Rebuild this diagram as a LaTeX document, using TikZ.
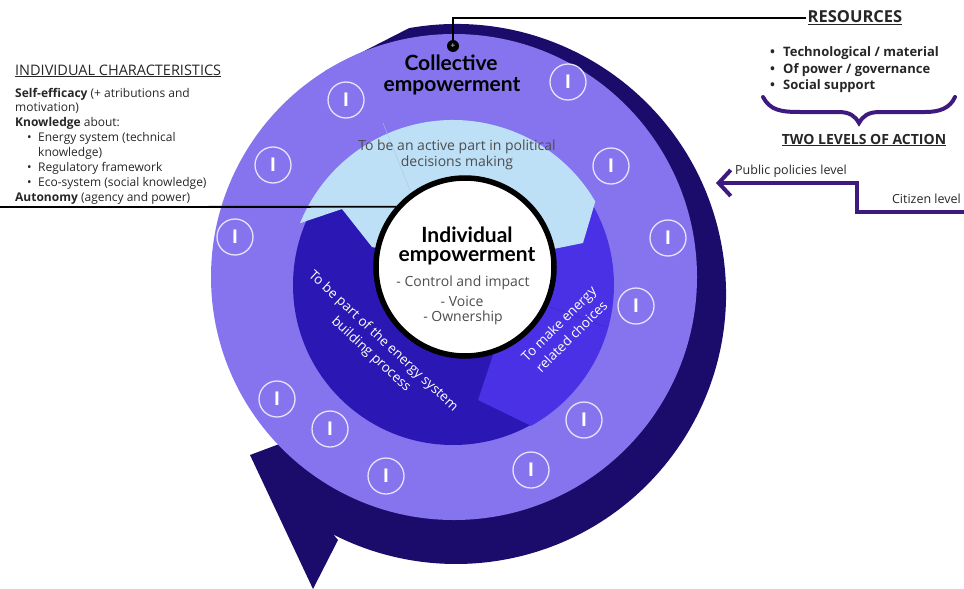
\documentclass[tikz,border=0pt]{standalone}
\usepackage{fontspec}
\setmainfont{Open Sans}
\newfontfamily\titlefont{Lato}
\usetikzlibrary{arrows.meta}
\definecolor{ringnavy}{HTML}{1B0C6B}
\definecolor{ringpurple}{HTML}{8574EE}
\definecolor{coredark}{HTML}{2B17B3}
\definecolor{corebright}{HTML}{4A31E6}
\definecolor{corelight}{HTML}{BEE0F6}
\definecolor{levelpurple}{HTML}{3E1A7E}
\definecolor{txtdark}{HTML}{262626}
\definecolor{txtgray}{HTML}{4D4D4D}
\newcommand{\setfs}[2]{\fontsize{#1}{#2}\selectfont}

\begin{document}
\begin{tikzpicture}[x=1pt,y=-1pt]
\tikzstyle{every node}+=[inner sep=0pt]
\tikzset{
  ibadge/.style={circle, draw=white!80!ringpurple, line width=1.3pt, minimum size=36pt, text=white, font=\bfseries\setfs{19}{19}},
  lefttxt/.style={anchor=base west, text=txtdark, font=\setfs{12}{14}},
  restxt/.style={anchor=base west, text=txtdark, font=\bfseries\setfs{13}{15}},
  headtxt/.style={text=txtdark, font=\bfseries\setfs{14}{15}},
  bigtxt/.style={text=black, font=\titlefont\bfseries\setfs{21}{22}},
  listtxt/.style={text=txtgray, font=\setfs{14}{15}}
}
\useasboundingbox (0,0) rectangle (964,589);

% navy ring with its arrow head
\fill [ringnavy] ([shift={(454,277)}]-122:243) -- ([shift={(456,294)}]-100:270) arc [start angle=-100, end angle=117, radius=270] -- (338,540) -- (313,589) -- (250,455) -- (290,440) -- (454,277) -- cycle;
% light purple ring
\fill [ringpurple] (454,277) circle (243);
% core sectors
\fill [coredark] (453,285) circle (160);
\fill [corebright] (453,285) -- ([shift={(453,285)}]-30.4:161) arc [start angle=-30.4, end angle=61, radius=161] -- (478,400) -- (493,355) -- cycle;
\fill [corelight] (583,243) -- ([shift={(453,285)}]-30.4:165) arc [start angle=-30.4, end angle=-158, radius=165] -- (342,209) -- (372,247) -- (465,267) -- cycle;
\draw [corelight!88!black, line width=0.4pt] (383,123) -- (410,190);
\draw [corebright!80!black, line width=0.4pt] (550,307) -- (607,327);

% I badges
\node [ibadge] (b1) at (346,100) {I};
\node [ibadge] (b2) at (568,82) {I};
\node [ibadge] (b3) at (273,165) {I};
\node [ibadge] (b4) at (611,166) {I};
\node [ibadge] (b5) at (235,237) {I};
\node [ibadge] (b6) at (668,238) {I};
\node [ibadge] (b7) at (636,306) {I};
\node [ibadge] (b8) at (277,399) {I};
\node [ibadge] (b9) at (330,429) {I};
\node [ibadge] (b10) at (386,476) {I};
\node [ibadge] (b11) at (584,420) {I};
\node [ibadge] (b12) at (531,470) {I};

% sector labels
\node [align=center, text=txtgray, font=\setfs{14}{16}] (polit) at (457,155) {To be an active part in political\\decisions making};
\node [rotate=-43, align=center, text=white, font=\setfs{13.5}{18}] (build) at (377,348) {To be part of the energy system\\building process};
\node [rotate=45, align=center, text=white, font=\setfs{13.5}{18}] (choice) at (565,330) {To make energy\\related choices};

% individual empowerment
\node [circle, draw=black, line width=5.5pt, fill=white, minimum size=178pt] (indiv) at (465,267) {};
\node [bigtxt] (indiv1) at (467,235) {Individual};
\node [bigtxt] (indiv2) at (467,256) {empowerment};
\node [listtxt] (ctrl) at (463,283) {- Control and impact};
\node [listtxt] (voice) at (462,301) {- Voice};
\node [listtxt] (owner) at (463,318) {- Ownership};

% collective empowerment
\node [bigtxt] (coll1) at (451,63) {Collective};
\node [bigtxt] (coll2) at (452,86) {empowerment};
\node [circle, fill=black, minimum size=12pt] (cmark) at (453,46) {};
\node [text=gray!70, font=\bfseries\setfs{8}{8}] (cplus) at (cmark) {+};

% individual characteristics
\coordinate (leftend) at (0,207);
\draw [black, line width=1.8pt] (leftend) -- (indiv.139);
\node [headtxt, font=\setfs{14.5}{15}, anchor=base west] (ichar) at (15,75) {\underline{INDIVIDUAL CHARACTERISTICS}};
\node [lefttxt] (l1) at (15,97) {\textbf{Self-efficacy} (+ atributions and};
\node [lefttxt] (l2) at (15,111) {motivation)};
\node [lefttxt] (l3) at (15,126) {\textbf{Knowledge} about:};
\node [lefttxt] (l4) at (27,141) {\textbullet};
\node [lefttxt] (l5) at (38,141) {Energy system (technical};
\node [lefttxt] (l6) at (38,156) {knowledge)};
\node [lefttxt] (l7) at (27,171) {\textbullet};
\node [lefttxt] (l8) at (38,171) {Regulatory framework};
\node [lefttxt] (l9) at (27,186) {\textbullet};
\node [lefttxt] (l10) at (38,186) {Eco-system (social knowledge)};
\node [lefttxt] (l11) at (15,201) {\textbf{Autonomy} (agency and power)};

% resources
\node [headtxt, font=\bfseries\setfs{16.5}{17}, anchor=base, inner sep=2pt] (res) at (855,23) {\underline{RESOURCES}};
\draw [black, line width=1.5pt] (cmark) |- (res.west);
\node [restxt] (r1) at (770,56) {\textbullet};
\node [restxt] (r2) at (783,56) {Technological / material};
\node [restxt] (r3) at (770,73) {\textbullet};
\node [restxt] (r4) at (783,73) {Of power / governance};
\node [restxt] (r5) at (770,89) {\textbullet};
\node [restxt] (r6) at (783,89) {Social support};
\draw [levelpurple, line width=4pt, line cap=round] (763,97) .. controls (770,110) and (780,112) .. (800,112) -- (838,112) .. controls (850,112) and (855,116) .. (859,123) .. controls (863,116) and (868,112) .. (880,112) -- (925,112) .. controls (940,112) and (950,108) .. (955,97);
\node [headtxt, anchor=base] (levels) at (864,144) {\underline{TWO LEVELS OF ACTION}};

% levels of action
\coordinate (citz) at (964,212);
\coordinate (pubp) at (716,183);
\draw [levelpurple, line width=4pt, -{Straight Barb[length=12pt, width=26pt]}] (citz) -- ++(-107,0) |- (pubp);
\node [lefttxt, font=\setfs{12.5}{14}] (publab) at (735,174) {Public policies level};
\node [lefttxt, font=\setfs{12.5}{14}, anchor=base east] (citlab) at (961,203) {Citizen level};
\end{tikzpicture}
\end{document}
